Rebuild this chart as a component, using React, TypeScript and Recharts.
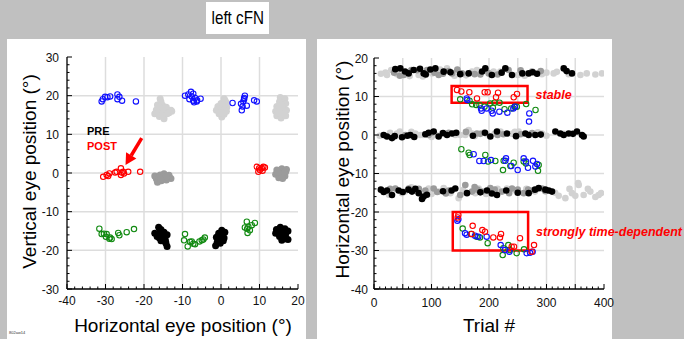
import React from "react"
import {
  ScatterChart,
  Scatter,
  XAxis,
  YAxis,
  CartesianGrid,
  ReferenceArea,
  ReferenceLine,
} from "recharts"

const FONT = "'Liberation Sans', Arial, Helvetica, sans-serif"

// ---------- left panel: vertical vs horizontal eye position (deg) ----------
const leftBlue = [
  [-31.0, 18.5], [-30.7, 19.1], [-30.1, 19.7], [-29.5, 19.6], [-28.8, 19.8], [-26.9, 20.3],
  [-26.4, 19.7], [-26.9, 19.1], [-25.7, 18.7], [-22.1, 18.5],
  [-9.35, 20.0], [-8.5, 20.3], [-7.8, 21.0], [-7.2, 20.5], [-8.2, 19.1], [-7.6, 19.8],
  [-6.75, 19.4], [-6.3, 18.5], [-7.0, 18.3], [-6.2, 18.8], [-5.3, 19.2], [-7.2, 18.7],
  [3.0, 18.1], [5.4, 16.2], [5.6, 17.2], [5.8, 18.5], [6.0, 19.1], [6.2, 20.0], [6.0, 19.4],
  [6.7, 17.4], [8.6, 18.8], [9.3, 18.5], [5.2, 17.9],
]
const leftRed = [
  [-30.6, -1.0], [-29.7, -0.5], [-29.0, -0.1], [-29.3, -0.8], [-27.5, 0.1], [-27.1, 0.3],
  [-26.0, 1.2], [-25.8, 0.1], [-26.0, -0.5], [-25.2, -0.1], [-25.4, 0.3], [-24.1, 0.3], [-21.0, 0.3],
  [9.3, 1.6], [9.7, 0.3], [10.1, 0.8], [10.6, 1.2], [11.0, 1.6], [11.4, 1.4], [9.9, 1.2], [10.8, 0.6],
]
const leftGreen = [
  [-31.6, -14.4], [-31.0, -15.8], [-30.4, -15.7], [-29.7, -15.8], [-29.9, -16.5], [-29.0, -17.0],
  [-28.4, -17.1], [-28.8, -16.7], [-26.7, -15.5], [-26.4, -16.1], [-24.5, -15.3], [-22.6, -14.5],
  [-9.35, -15.8], [-9.6, -17.4], [-8.65, -19.0], [-8.05, -17.8], [-7.6, -17.7], [-7.2, -18.3],
  [-6.75, -18.4], [-5.6, -17.7], [-5.0, -17.4], [-4.6, -17.2], [-4.2, -16.7],
  [6.2, -14.1], [6.7, -12.6], [7.1, -13.9], [7.5, -14.8], [8.0, -13.5], [6.8, -14.4],
  [8.8, -12.9], [6.9, -15.5],
]
const leftLight = [
  [-15.8, 19.2], [-15.6, 18.4], [-16.5, 17.6], [-15.2, 17.5], [-14.2, 17.0], [-13.0, 16.2],
  [-13.5, 15.6], [-16.8, 16.3], [-17.2, 15.3], [-15.8, 15.8], [-14.8, 16.0], [-15.0, 14.8],
  [-14.8, 14.0], [-16.0, 14.6], [-12.8, 16.0], [-16.2, 17.0], [-15.0, 16.5], [-14.0, 15.3],
  [-16.4, 15.4], [-15.4, 15.0],
  [0.8, 19.2], [1.3, 18.3], [0.0, 18.0], [-0.8, 17.2], [-1.2, 16.2], [0.3, 16.8], [1.5, 17.0],
  [-0.5, 15.3], [0.8, 15.2], [0.2, 14.5], [1.4, 16.0], [0.6, 17.6], [-0.3, 16.4], [0.8, 16.2],
  [0.0, 15.6], [1.0, 18.8],
  [15.4, 19.5], [16.6, 19.2], [15.2, 18.4], [16.8, 18.0], [14.5, 17.2], [16.2, 17.0],
  [14.2, 16.0], [15.6, 15.8], [17.0, 16.2], [14.5, 14.8], [15.6, 14.2], [16.8, 14.8],
  [15.8, 17.6], [15.0, 16.8], [16.0, 16.4], [15.4, 17.0], [16.0, 15.2], [15.0, 15.4],
]
const leftMid = [
  [-16.8, -1.5], [-15.8, -0.5], [-14.8, -0.2], [-13.5, -0.6], [-13.0, -1.4], [-14.2, -1.8],
  [-15.5, -2.0], [-16.5, -2.4], [-15.0, -1.2], [-17.2, -0.8], [-15.2, -0.9], [-14.2, -1.0],
  [-16.2, -1.2], [-15.6, -1.6],
  [14.5, 0.8], [15.8, 1.1], [16.8, 0.3], [14.2, -0.3], [15.4, -0.1], [16.6, -0.8],
  [15.0, -1.2], [16.0, -1.4], [17.0, 0.9], [15.6, 0.4], [15.8, -0.8], [16.4, 0.2], [14.8, 0.2],
]
const leftBlack = [
  [-16.2, -14.0], [-15.6, -14.6], [-17.2, -15.6], [-16.0, -15.5], [-14.8, -15.3], [-14.0, -16.0],
  [-16.6, -16.4], [-15.2, -16.6], [-14.5, -17.2], [-14.3, -18.2], [-15.6, -17.5], [-14.0, -19.0],
  [-15.4, -15.8], [-14.8, -16.2], [-15.0, -17.5], [-14.4, -17.8], [-15.8, -15.2], [-16.0, -16.8],
  [0.2, -14.8], [1.0, -15.3], [-0.6, -15.6], [0.4, -16.2], [-1.2, -16.6], [0.8, -16.8],
  [-0.8, -17.6], [-0.2, -18.2], [-1.4, -18.8], [0.6, -17.5], [-0.2, -16.0], [0.0, -17.0],
  [-0.6, -17.0], [-0.4, -15.8], [-1.0, -18.0],
  [14.4, -14.6], [15.4, -14.0], [16.6, -14.4], [17.4, -15.0], [14.2, -15.6], [15.6, -15.4],
  [16.8, -15.8], [15.2, -16.4], [16.2, -16.8], [17.4, -17.2], [15.8, -17.4], [15.6, -14.8],
  [16.2, -15.4], [15.8, -16.2], [16.6, -16.2], [16.8, -17.0], [14.8, -15.2],
]
const leftXLabels = [-40, -30, -20, -10, 0, 10, 20]
const leftYLabels = [-30, -20, -10, 0, 10, 20, 30]
const leftXGrid = [-30, -20, -10, 0, 10]
const leftYGrid = [-20, -10, 0, 10, 20]
const arrowFrom = [-20.6, 9.0]
const arrowTo = [-24.8, 2.1]

// ---------- right panel: horizontal eye position vs trial ----------
const rightLight = [
  [22.6, 15.6], [20, 16.2], [40, 15.8], [77.7, 15.6], [101, 16.0], [127, 17.3], [144.3, 16.45],
  [170.4, 16.45], [179, 16.9], [208, 16.45], [219.7, 16.45], [292, 15.8], [312.5, 16.0],
  [338.6, 15.8], [359, 15.6], [396.5, 16.0], [30, 16.9], [62, 15.3], [115, 17.0], [160, 15.5],
  [250, 15.6], [318, 16.4], [370, 16.0], [12, 15.9], [85, 15.2], [140, 15.4], [195, 16.9],
  [262, 15.4], [300, 16.2], [385, 15.7],
  [40, 0.4], [72, 0.4], [80.6, 0.0], [118.3, 0.4], [150, 0.0], [164.6, 1.3], [170.4, 0.4],
  [251.6, 0.9], [292.2, 0.4], [45, 0.9], [85, 0.0], [141.4, 0.0], [158.8, 0.0], [190, 0.6], [240, 0.3],
  [10, -0.2], [28, 0.6], [65, 0.8], [108, 0.0], [175, -0.3], [196, 0.2], [210, 0.4], [220, 0.9],
  [245, 0.8], [285, 0.7], [300, -0.2], [330, 0.3], [100, -0.5],
  [48.7, -15.1], [54.5, -14.7], [95, -13.9], [112.5, -14.7], [121.2, -13.8], [132.8, -15.1],
  [147.2, -16.4], [176.2, -15.1], [182, -13.9], [231.3, -13.9], [245.8, -14.4], [321.2, -15.8],
  [332.8, -16.4], [344.3, -15.1], [350.1, -15.8], [356, -13.0], [364.6, -15.6], [376.2, -14.7],
  [385, -16.1], [390.7, -15.6], [355, -12.5], [75, -14.3], [265, -14.0], [26, -15.5],
  [65, -13.6], [100, -15.3], [155, -14.3], [195, -15.3], [215, -14.0], [280, -14.7],
  [315, -15.0], [340, -14.0], [372, -14.0], [395, -15.1],
]
const rightMid = [
  [51.6, 15.6], [92.2, 16.9], [112.5, 15.6], [135.7, 16.0], [153, 16.0], [199.4, 16.0],
  [234, 16.9], [274.8, 16.45], [35, 16.2], [75, 16.8], [130, 16.6], [185, 15.7],
  [45, 15.4], [65, 16.9], [105, 16.2], [145, 17.0], [175, 15.8], [215, 15.7], [255, 16.8],
  [290, 16.6], [120, 15.9],
  [54.5, 0.0], [95, 0.0], [179, 0.4], [100, 0.6], [225, 0.2], [130, 0.6], [160, 0.8],
  [185, 0.3], [215, 0.0], [255, 0.2], [275, 0.5],
  [37.1, -13.9], [60.3, -13.9], [89.3, -14.4], [103.8, -13.9], [130, -14.4], [158.8, -13.0],
  [170.4, -14.7], [187.8, -14.7], [202.3, -13.8], [222.6, -14.7], [240, -13.9], [260.3, -15.1],
  [274.8, -14.4], [292.2, -13.9], [110, -14.8], [180, -14.2], [250, -14.2], [28, -14.0],
  [78, -14.0], [125, -15.2], [150, -15.6], [175, -13.5], [210, -14.2], [235, -15.1],
  [268, -14.2], [298, -14.6],
]
const rightBlack = [
  [45.8, 17.3], [60.3, 16.0], [69, 16.9], [86.4, 16.0], [106.7, 17.3], [121.2, 16.45],
  [164.6, 16.0], [193.6, 17.3], [228.4, 17.3], [240, 15.6], [269, 16.0], [283.5, 15.9],
  [330, 17.3], [344.3, 16.0], [54, 16.5], [98, 17.0], [150, 15.8], [80, 17.2], [90, 15.7],
  [133, 16.3], [205, 15.6], [222, 16.2], [258, 16.0], [276, 16.3], [335, 16.6], [188, 16.5],
  [37, 17.1],
  [16.8, 0.0], [22.6, -0.4], [31.3, -0.8], [48.7, -0.6], [63.2, 0.0], [89.3, 0.2], [103.8, 0.9],
  [112.5, -0.4], [127, 0.0], [135.7, 0.4], [202.3, -0.4], [213.9, 0.9], [231.3, 0.4], [263.2, 0.4],
  [269, 0.0], [280.6, 0.0], [315.4, 0.9], [324, 0.4], [338.6, 0.4], [353, 0.9], [361.7, 0.0],
  [364.6, -0.4], [120, 0.5], [58, -0.2], [36, -0.3], [70, -0.5], [95, 0.6], [143, 0.6],
  [172, -0.2], [193, 0.6], [247, -0.3], [290, 0.1], [330, 0.0], [346, 0.3],
  [16.8, -14.8], [22.6, -14.4], [31.3, -15.6], [42.9, -14.4], [66.1, -14.7], [71.9, -14.0],
  [77.7, -15.1], [83.5, -16.6], [86.4, -16.0], [141.4, -13.9], [161.7, -15.1], [196.5, -14.4],
  [213.9, -15.6], [269, -15.1], [286.4, -13.8], [303.8, -14.4], [309.6, -14.7], [60, -14.2],
  [120, -14.6], [230, -14.4], [12, -14.2], [50, -14.8], [92, -15.5], [135, -14.4], [185, -14.9],
  [205, -15.2], [250, -15.0], [280, -14.2], [298, -14.2],
]
const rightGreen = [
  [149.9, 9.27], [166.1, 8.9], [170.7, 7.96], [177.7, 7.8], [183.5, 7.8], [192.2, 7.36],
  [202, 8.2], [209.6, 8.4], [218.3, 8.4], [227, 6.7], [238.6, 6.9], [244.3, 7.36], [248.4, 7.36],
  [264.6, 8.05], [280.9, 6.5], [206.7, 7.1],
  [151.9, -3.7], [164.6, -4.6], [166.4, -5.2], [193.6, -5.2], [198.3, -6.9], [211, -6.75],
  [225.5, -6.7], [224.3, -9.1], [237.1, -8.05], [242.9, -7.2], [260.3, -6.9], [264.3, -7.4],
  [286.4, -7.8], [285.2, -9.3],
  [154.2, -24.3], [168.7, -25.7], [178.6, -26.4], [184.3, -26.6], [197.7, -28.1], [224.9, -29.4],
  [223.8, -31.2], [233.6, -28.6], [236.5, -29.9], [248.1, -30.7], [260.9, -29.7],
]
const rightBlue = [
  [161.2, 9.5], [162.3, 9.1], [186.1, 6.9], [187.2, 6.3], [195.9, 6.9], [204.6, 6.3],
  [206.4, 5.6], [218, 6.05], [231.9, 5.8], [242.3, 6.9], [245.2, 7.35], [270.1, 5.6], [269.6, 3.5],
  [173.3, -5.0], [183.2, -6.75], [190.7, -6.75], [203.5, -6.5], [229.6, -6.05], [228.4, -6.7],
  [238.8, -8.05], [249.9, -9.1], [260.3, -6.05], [264.3, -6.9], [267.8, -8.5], [276.5, -6.7],
  [280.6, -8.2], [283.5, -7.5],
  [146.7, -21.9], [145, -22.3], [158.3, -25.5], [161.2, -25.9], [175.7, -26.15], [181.4, -26.4],
  [195.9, -26.4], [220.3, -28.6], [227.8, -29.9], [235.4, -30.3], [265.5, -30.7], [275.9, -30.3],
  [271.3, -30.6],
]
const rightRed = [
  [144.3, 11.7], [151.9, 11.3], [165.8, 11.1], [179.1, 9.5], [192.5, 11.1], [197.7, 11.1],
  [215.7, 11.0], [212.2, 9.8], [243, 9.8], [248.7, 10.65],
  [146.7, -20.8], [145.5, -21.4], [171.6, -23.6], [169.9, -25.7], [188.4, -24.7], [193, -25.1],
  [207.5, -26.6], [220.9, -25.7], [219.1, -26.6], [243.5, -29.0], [239.4, -29.0], [253.9, -26.8],
  [278.3, -28.6], [274.2, -30.3],
]
const rightXLabels = [0, 100, 200, 300, 400]
const rightYLabels = [-40, -30, -20, -10, 0, 10, 20]
const rightXGrid = [50, 100, 150, 200, 250, 300, 350]
const rightYGrid = [-30, -20, -10, 0, 10]
const stableBox = { x1: 135, x2: 267, y1: 8.4, y2: 12.7 }
const timeBox = { x1: 137, x2: 268, y1: -30, y2: -20 }

const toPts = (arr: number[][]) => arr.map(([x, y]) => ({ x, y }))
const steps = (a: number, b: number, s: number) => {
  const out: number[] = []
  for (let v = a; v <= b + 1e-9; v += s) out.push(Math.round(v * 1000) / 1000)
  return out
}

const openDot = (color: string) => (p: any) =>
  <circle cx={p.cx} cy={p.cy} r={2.7} fill="none" stroke={color} strokeWidth={1.1} />
const fullDot = (color: string, r = 3.3) => (p: any) =>
  <circle cx={p.cx} cy={p.cy} r={r} fill={color} />

const near = (v: number, m: number) => Math.abs(v / m - Math.round(v / m)) < 1e-6

function AxisTick(props: any) {
  const { x, y, payload, side, major, labels, gap } = props
  const v = Number(payload.value)
  const len = near(v, major) ? 5 : 2.5
  const show = labels && labels.includes(v)
  const txt = { fontFamily: FONT, fontSize: 12, fill: "#111" }
  if (side === "bottom")
    return (
      <g>
        <line x1={x} y1={y} x2={x} y2={y - len} stroke="#000" strokeWidth={1} />
        {show && <text x={x} y={y + gap} textAnchor="middle" {...txt}>{v}</text>}
      </g>
    )
  if (side === "top")
    return <line x1={x} y1={y} x2={x} y2={y + len} stroke="#000" strokeWidth={1} />
  if (side === "left")
    return (
      <g>
        <line x1={x} y1={y} x2={x + len} y2={y} stroke="#000" strokeWidth={1} />
        {show && <text x={x - gap} y={y + 4.5} textAnchor="end" {...txt}>{v}</text>}
      </g>
    )
  return <line x1={x} y1={y} x2={x - len} y2={y} stroke="#000" strokeWidth={1} />
}

function Arrow(p: any) {
  const { x1, y1, x2, y2 } = p
  const dx = x2 - x1
  const dy = y2 - y1
  const L = Math.sqrt(dx * dx + dy * dy)
  const ux = dx / L
  const uy = dy / L
  const hl = 11
  const hw = 6
  const bx = x2 - ux * hl
  const by = y2 - uy * hl
  return (
    <g>
      <line x1={x1} y1={y1} x2={bx} y2={by} stroke="#ff0000" strokeWidth={3.5} />
      <polygon
        points={`${x2},${y2} ${bx - uy * hw},${by + ux * hw} ${bx + uy * hw},${by - ux * hw}`}
        fill="#ff0000"
      />
    </g>
  )
}

const frame = { stroke: "#000", strokeWidth: 1.3 }

function LeftChart() {
  const xt = steps(-40, 20, 2)
  const yt = steps(-30, 30, 2)
  return (
    <ScatterChart width={299} height={300} margin={{ top: 18, right: 8, left: 10, bottom: 20 }}>
      <CartesianGrid verticalValues={leftXGrid} horizontalValues={leftYGrid} stroke="#dddddd" strokeWidth={1.5} />
      <XAxis type="number" dataKey="x" domain={[-40, 20]} ticks={xt} interval={0} height={30}
        tickSize={0} tickMargin={0} tickLine={false} axisLine={frame} allowDataOverflow
        tick={(p: any) => <AxisTick {...p} side="bottom" major={10} labels={leftXLabels} gap={16} />} />
      <XAxis xAxisId="top" orientation="top" type="number" domain={[-40, 20]} ticks={xt} interval={0}
        height={0} tickSize={0} tickMargin={0} tickLine={false} axisLine={frame}
        tick={(p: any) => <AxisTick {...p} side="top" major={10} />} />
      <YAxis type="number" dataKey="y" domain={[-30, 30]} ticks={yt} interval={0} width={50}
        tickSize={0} tickMargin={0} tickLine={false} axisLine={frame} allowDataOverflow
        tick={(p: any) => <AxisTick {...p} side="left" major={10} labels={leftYLabels} gap={8} />} />
      <YAxis yAxisId="right" orientation="right" type="number" domain={[-30, 30]} ticks={yt}
        interval={0} width={0} tickSize={0} tickMargin={0} tickLine={false} axisLine={frame}
        tick={(p: any) => <AxisTick {...p} side="right" major={10} />} />
      <Scatter data={toPts(leftLight)} shape={fullDot("#d2d2d2", 3.5)} isAnimationActive={false} />
      <Scatter data={toPts(leftMid)} shape={fullDot("#9b9b9b", 3.5)} isAnimationActive={false} />
      <Scatter data={toPts(leftBlack)} shape={fullDot("#000000", 3.5)} isAnimationActive={false} />
      <Scatter data={toPts(leftGreen)} shape={openDot("#118a11")} isAnimationActive={false} />
      <Scatter data={toPts(leftBlue)} shape={openDot("#1010ff")} isAnimationActive={false} />
      <Scatter data={toPts(leftRed)} shape={openDot("#ff0000")} isAnimationActive={false} />
      <ReferenceLine
        segment={[{ x: arrowFrom[0], y: arrowFrom[1] }, { x: arrowTo[0], y: arrowTo[1] }]}
        shape={Arrow}
      />
    </ScatterChart>
  )
}

const noteLabel = (value: string) => ({
  value,
  position: "right" as const,
  offset: 8,
  fill: "#ff0000",
  fontSize: 12.5,
  fontWeight: "bold",
  fontStyle: "italic",
  fontFamily: FONT,
})

function RightChart() {
  const xt = steps(0, 400, 10)
  const yt = steps(-40, 20, 2)
  return (
    <ScatterChart width={367} height={300} margin={{ top: 19, right: 80, left: 7, bottom: 20 }}>
      <CartesianGrid verticalValues={rightXGrid} horizontalValues={rightYGrid} stroke="#dddddd" strokeWidth={1.5} />
      <XAxis type="number" dataKey="x" domain={[0, 400]} ticks={xt} interval={0} height={30}
        tickSize={0} tickMargin={0} tickLine={false} axisLine={frame} allowDataOverflow
        tick={(p: any) => <AxisTick {...p} side="bottom" major={50} labels={rightXLabels} gap={18} />} />
      <XAxis xAxisId="top" orientation="top" type="number" domain={[0, 400]} ticks={xt} interval={0}
        height={0} tickSize={0} tickMargin={0} tickLine={false} axisLine={frame}
        tick={(p: any) => <AxisTick {...p} side="top" major={50} />} />
      <YAxis type="number" dataKey="y" domain={[-40, 20]} ticks={yt} interval={0} width={50}
        tickSize={0} tickMargin={0} tickLine={false} axisLine={frame} allowDataOverflow
        tick={(p: any) => <AxisTick {...p} side="left" major={10} labels={rightYLabels} gap={6} />} />
      <YAxis yAxisId="right" orientation="right" type="number" domain={[-40, 20]} ticks={yt}
        interval={0} width={0} tickSize={0} tickMargin={0} tickLine={false} axisLine={frame}
        tick={(p: any) => <AxisTick {...p} side="right" major={10} />} />
      <Scatter data={toPts(rightLight)} shape={fullDot("#d2d2d2")} isAnimationActive={false} />
      <Scatter data={toPts(rightMid)} shape={fullDot("#9b9b9b")} isAnimationActive={false} />
      <Scatter data={toPts(rightBlack)} shape={fullDot("#000000")} isAnimationActive={false} />
      <Scatter data={toPts(rightGreen)} shape={openDot("#118a11")} isAnimationActive={false} />
      <Scatter data={toPts(rightBlue)} shape={openDot("#1010ff")} isAnimationActive={false} />
      <Scatter data={toPts(rightRed)} shape={openDot("#ff0000")} isAnimationActive={false} />
      <ReferenceArea {...stableBox} fill="none" stroke="#ff0000" strokeWidth={2.5} label={noteLabel("stable")} />
      <ReferenceArea {...timeBox} fill="none" stroke="#ff0000" strokeWidth={2.5} label={noteLabel("strongly time-dependent")} />
    </ScatterChart>
  )
}

const abs = (left: number, top: number, extra: React.CSSProperties = {}): React.CSSProperties => ({
  position: "absolute",
  left,
  top,
  ...extra,
})

export default function App() {
  const axisTitle: React.CSSProperties = { fontSize: 19, lineHeight: "19px", color: "#000", whiteSpace: "nowrap", textAlign: "center" }
  return (
    <div style={{ position: "absolute", left: 0, top: 0, width: 684, height: 339, background: "#c0c0c0", overflow: "hidden", fontFamily: FONT }}>
      <div style={abs(206, 2, { width: 63, height: 32, background: "#fff", textAlign: "center", lineHeight: "32px", fontSize: 19, whiteSpace: "nowrap", overflow: "visible" })}>
        <span style={{ display: "inline-block", transform: "scaleX(0.8)", marginLeft: -10, marginRight: -10 }}>left cFN</span>
      </div>
      <div style={abs(7, 39, { width: 299, height: 300, background: "#fff" })} />
      <div style={abs(317, 39, { width: 295, height: 300, background: "#fff" })} />
      <div style={abs(7, 39)}><LeftChart /></div>
      <div style={abs(317, 39)}><RightChart /></div>

      <div style={abs(33, 316, { width: 300, ...axisTitle })}>Horizontal eye position (°)</div>
      <div style={abs(339, 316, { width: 300, ...axisTitle })}>Trial #</div>
      <div style={abs(29 - 130, 171 - 9.5, { width: 260, height: 19, transform: "rotate(-90deg)", ...axisTitle })}>Vertical eye position (°)</div>
      <div style={abs(342 - 130, 169 - 9.5, { width: 260, height: 19, transform: "rotate(-90deg)", ...axisTitle })}>Horizontal eye position (°)</div>

      <div style={abs(87, 125.7, { fontSize: 11, lineHeight: "11px", fontWeight: "bold", color: "#000" })}>PRE</div>
      <div style={abs(87, 140.7, { fontSize: 11, lineHeight: "11px", fontWeight: "bold", color: "#ff0000" })}>POST</div>
      <div style={abs(9, 331, { fontSize: 4, lineHeight: "4px", color: "#333" })}>802aw14</div>
    </div>
  )
}
